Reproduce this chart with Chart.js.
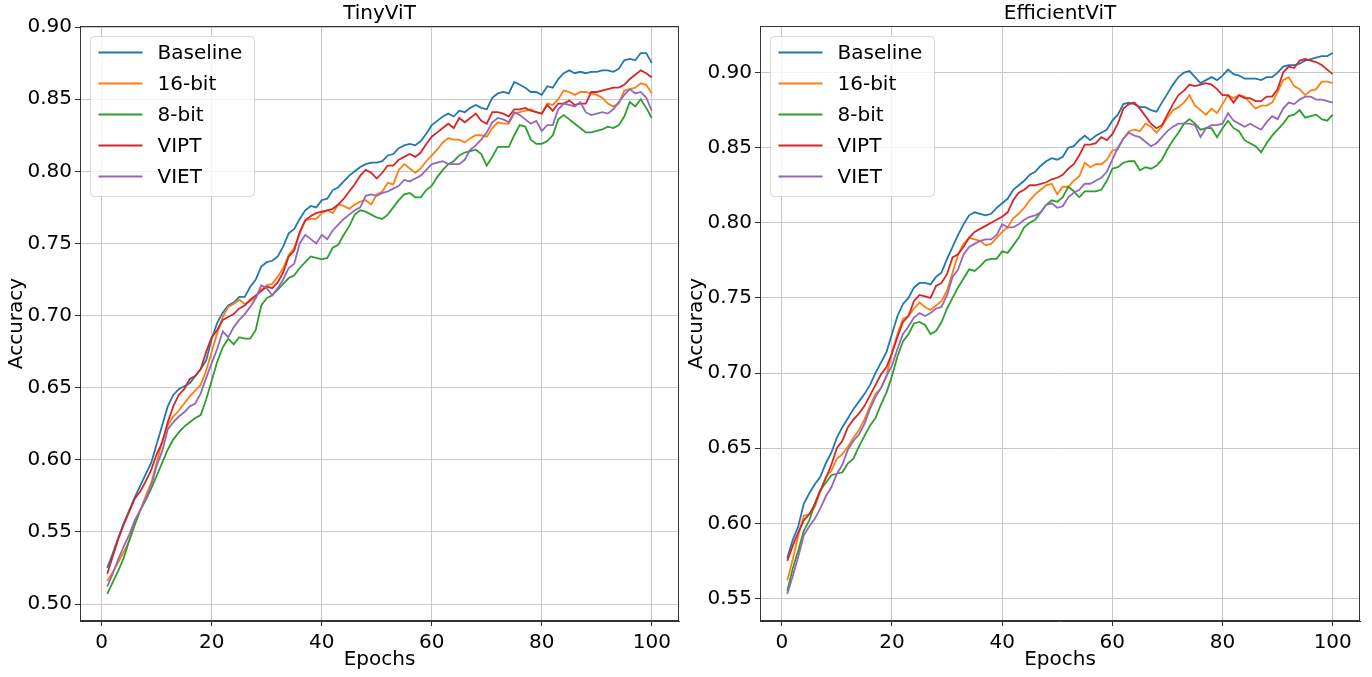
<!DOCTYPE html>
<html>
<head>
<meta charset="utf-8">
<title>TinyViT / EfficientViT accuracy</title>
<script src="https://cdn.jsdelivr.net/npm/chart.js@4/dist/chart.umd.min.js"></script>
<style>
  html, body { margin: 0; padding: 0; background: #fff; }
  #wrap { position: relative; width: 1372px; height: 677px; }
  .panel { position: absolute; top: 0; }
</style>
</head>
<body>
<div id="wrap">
  <canvas id="tinyChart" class="panel" width="680" height="677" style="left:0px"></canvas>
  <canvas id="effChart" class="panel" width="692" height="677" style="left:680px"></canvas>
</div>
<script>
// accuracy per epoch (1..100)
const seriesNames = ["Baseline", "16-bit", "8-bit", "VIPT", "VIET"];
const seriesColors = ["#1f77b4", "#ff7f0e", "#2ca02c", "#d62728", "#9467bd"];

const tinyBaseline = [0.525,0.535,0.546,0.556,0.565,0.574,0.582,0.590,0.598,0.611,0.624,0.637,0.645,0.649,0.651,0.653,0.658,0.663,0.669,0.684,0.695,0.702,0.707,0.709,0.713,
  0.713,0.720,0.725,0.734,0.737,0.738,0.741,0.748,0.757,0.760,0.767,0.773,0.776,0.775,0.780,0.781,0.787,0.789,0.793,0.797,0.800,0.803,0.805,0.806,0.806,
  0.807,0.811,0.812,0.816,0.818,0.819,0.818,0.821,0.826,0.832,0.835,0.838,0.840,0.838,0.842,0.841,0.844,0.846,0.844,0.843,0.851,0.854,0.855,0.854,0.862,
  0.860,0.858,0.855,0.855,0.853,0.859,0.858,0.864,0.868,0.870,0.868,0.869,0.868,0.869,0.869,0.870,0.870,0.869,0.871,0.877,0.878,0.877,0.882,0.882,0.875];
const tiny16bit = [0.516,0.522,0.529,0.536,0.544,0.555,0.565,0.575,0.584,0.598,0.613,0.624,0.630,0.634,0.639,0.644,0.648,0.652,0.662,0.675,0.688,0.699,0.706,0.708,0.711,
  0.708,0.710,0.713,0.718,0.721,0.722,0.727,0.733,0.742,0.747,0.757,0.766,0.767,0.767,0.771,0.773,0.771,0.777,0.776,0.774,0.777,0.779,0.780,0.777,0.784,
  0.786,0.792,0.791,0.801,0.805,0.802,0.799,0.802,0.807,0.811,0.815,0.820,0.823,0.822,0.822,0.820,0.823,0.825,0.825,0.824,0.830,0.834,0.833,0.833,0.840,
  0.841,0.842,0.843,0.841,0.840,0.847,0.846,0.850,0.856,0.855,0.853,0.855,0.855,0.854,0.853,0.851,0.847,0.845,0.847,0.856,0.857,0.858,0.861,0.860,0.854];
const tiny8bit = [0.507,0.515,0.523,0.532,0.544,0.555,0.565,0.572,0.580,0.589,0.598,0.607,0.614,0.619,0.623,0.626,0.629,0.631,0.642,0.655,0.668,0.678,0.684,0.680,0.685,
  0.684,0.684,0.690,0.707,0.712,0.714,0.718,0.722,0.726,0.728,0.733,0.737,0.741,0.740,0.739,0.740,0.747,0.749,0.756,0.762,0.770,0.773,0.772,0.770,0.768,
  0.767,0.770,0.775,0.780,0.784,0.785,0.782,0.782,0.787,0.790,0.796,0.801,0.805,0.807,0.811,0.813,0.814,0.815,0.812,0.804,0.810,0.817,0.817,0.817,0.825,
  0.832,0.831,0.822,0.819,0.819,0.821,0.825,0.836,0.839,0.836,0.833,0.830,0.827,0.827,0.828,0.829,0.831,0.830,0.832,0.838,0.848,0.845,0.850,0.844,0.837];
const tinyVipt = [0.521,0.533,0.545,0.555,0.564,0.573,0.578,0.585,0.593,0.604,0.612,0.626,0.637,0.645,0.649,0.656,0.658,0.663,0.675,0.685,0.690,0.697,0.699,0.701,0.705,
  0.707,0.711,0.714,0.717,0.720,0.719,0.723,0.730,0.741,0.745,0.758,0.766,0.769,0.771,0.772,0.773,0.774,0.777,0.781,0.786,0.791,0.797,0.801,0.799,0.795,
  0.799,0.804,0.804,0.808,0.810,0.812,0.810,0.813,0.819,0.824,0.827,0.830,0.833,0.830,0.837,0.834,0.837,0.840,0.835,0.833,0.841,0.841,0.840,0.838,0.843,
  0.843,0.844,0.842,0.841,0.840,0.846,0.842,0.847,0.847,0.849,0.846,0.847,0.847,0.855,0.855,0.856,0.857,0.858,0.858,0.860,0.864,0.867,0.870,0.868,0.865];
const tinyViet = [0.512,0.521,0.531,0.540,0.548,0.558,0.565,0.573,0.582,0.596,0.606,0.621,0.626,0.630,0.633,0.637,0.639,0.646,0.657,0.667,0.677,0.689,0.685,0.692,0.697,
  0.701,0.706,0.712,0.721,0.719,0.714,0.719,0.725,0.733,0.736,0.750,0.756,0.753,0.750,0.756,0.753,0.759,0.763,0.767,0.770,0.773,0.775,0.783,0.784,0.783,
  0.785,0.786,0.788,0.790,0.794,0.793,0.795,0.797,0.801,0.805,0.806,0.807,0.805,0.805,0.805,0.808,0.815,0.818,0.822,0.827,0.834,0.837,0.836,0.834,0.841,
  0.839,0.836,0.833,0.835,0.828,0.832,0.832,0.843,0.847,0.846,0.845,0.848,0.841,0.839,0.840,0.841,0.840,0.843,0.848,0.853,0.857,0.854,0.855,0.851,0.842];

const effBaseline = [0.577,0.589,0.598,0.613,0.620,0.626,0.631,0.640,0.647,0.657,0.664,0.670,0.676,0.681,0.686,0.692,0.700,0.707,0.714,0.726,0.738,0.746,0.750,0.757,0.760,
  0.760,0.759,0.764,0.767,0.776,0.784,0.792,0.799,0.805,0.807,0.806,0.805,0.806,0.810,0.813,0.816,0.822,0.825,0.828,0.832,0.834,0.838,0.841,0.843,0.842,
  0.844,0.850,0.851,0.855,0.858,0.855,0.858,0.860,0.862,0.868,0.872,0.879,0.880,0.879,0.877,0.877,0.875,0.874,0.880,0.886,0.892,0.897,0.900,0.901,0.897,
  0.893,0.895,0.897,0.895,0.898,0.902,0.899,0.898,0.896,0.896,0.896,0.895,0.897,0.897,0.900,0.904,0.905,0.905,0.906,0.908,0.909,0.910,0.911,0.911,0.913];
const eff16bit = [0.562,0.576,0.592,0.605,0.606,0.611,0.621,0.631,0.635,0.643,0.646,0.651,0.657,0.662,0.669,0.678,0.686,0.690,0.698,0.714,0.726,0.736,0.738,0.743,0.747,
  0.744,0.742,0.745,0.748,0.755,0.767,0.779,0.786,0.790,0.789,0.788,0.785,0.786,0.790,0.794,0.797,0.803,0.806,0.810,0.815,0.819,0.822,0.825,0.826,0.819,
  0.824,0.824,0.828,0.831,0.840,0.837,0.839,0.839,0.842,0.848,0.849,0.856,0.861,0.862,0.861,0.866,0.864,0.860,0.864,0.870,0.875,0.877,0.880,0.885,0.878,
  0.875,0.872,0.876,0.873,0.879,0.885,0.883,0.885,0.884,0.880,0.876,0.878,0.878,0.880,0.887,0.895,0.897,0.891,0.889,0.885,0.888,0.889,0.894,0.894,0.893];
const eff8bit = [0.555,0.570,0.582,0.595,0.602,0.613,0.622,0.627,0.632,0.633,0.634,0.640,0.643,0.651,0.658,0.665,0.670,0.679,0.687,0.698,0.711,0.721,0.726,0.733,0.734,
  0.732,0.726,0.728,0.734,0.743,0.750,0.757,0.763,0.769,0.768,0.771,0.775,0.776,0.776,0.781,0.780,0.785,0.790,0.797,0.800,0.802,0.807,0.812,0.815,0.814,
  0.817,0.824,0.821,0.817,0.821,0.821,0.821,0.822,0.828,0.836,0.837,0.840,0.841,0.841,0.835,0.837,0.836,0.838,0.842,0.849,0.855,0.860,0.866,0.869,0.866,
  0.862,0.863,0.863,0.857,0.863,0.868,0.863,0.861,0.855,0.853,0.851,0.847,0.853,0.858,0.862,0.866,0.871,0.872,0.875,0.870,0.871,0.872,0.869,0.868,0.872];
const effVipt = [0.575,0.585,0.594,0.602,0.606,0.613,0.622,0.630,0.639,0.650,0.655,0.664,0.669,0.673,0.678,0.685,0.692,0.699,0.704,0.713,0.724,0.734,0.738,0.748,0.752,
  0.751,0.750,0.758,0.760,0.766,0.777,0.779,0.784,0.790,0.794,0.796,0.798,0.800,0.802,0.804,0.807,0.815,0.820,0.822,0.825,0.825,0.826,0.827,0.829,0.830,
  0.832,0.836,0.839,0.845,0.852,0.852,0.853,0.857,0.855,0.859,0.866,0.876,0.879,0.880,0.876,0.871,0.866,0.863,0.865,0.872,0.879,0.885,0.888,0.892,0.891,
  0.892,0.893,0.892,0.889,0.885,0.885,0.880,0.885,0.883,0.883,0.881,0.881,0.884,0.884,0.889,0.900,0.904,0.903,0.908,0.909,0.908,0.907,0.905,0.902,0.899];
const effViet = [0.553,0.565,0.578,0.592,0.598,0.603,0.610,0.618,0.624,0.633,0.639,0.649,0.655,0.659,0.666,0.676,0.684,0.690,0.698,0.705,0.716,0.726,0.731,0.737,0.740,
  0.738,0.740,0.743,0.744,0.752,0.764,0.769,0.779,0.784,0.786,0.788,0.789,0.789,0.792,0.799,0.797,0.797,0.799,0.802,0.804,0.805,0.807,0.812,0.813,0.810,
  0.811,0.817,0.820,0.822,0.826,0.826,0.828,0.830,0.834,0.842,0.850,0.856,0.860,0.858,0.857,0.854,0.851,0.853,0.857,0.861,0.864,0.866,0.866,0.866,0.865,
  0.857,0.863,0.865,0.865,0.866,0.873,0.868,0.866,0.864,0.866,0.864,0.862,0.867,0.871,0.869,0.876,0.880,0.879,0.882,0.884,0.884,0.882,0.882,0.881,0.880];

const epochs = tinyBaseline.map((_, i) => i + 1);
const xTicks = [0, 20, 40, 60, 80, 100];
const tinyYTicks = [0.50, 0.55, 0.60, 0.65, 0.70, 0.75, 0.80, 0.85, 0.90];
const effYTicks = [0.55, 0.60, 0.65, 0.70, 0.75, 0.80, 0.85, 0.90];

const FONT = "'DejaVu Sans', 'Liberation Sans', sans-serif";
Chart.defaults.color = "#000";
Chart.defaults.font.family = FONT;

// axes frame on all four sides, over the lines
const axesFrame = {
  id: "axesFrame",
  afterDatasetsDraw(chart) {
    const { ctx, chartArea: a } = chart;
    ctx.save();
    ctx.strokeStyle = "#333";
    ctx.lineWidth = 1;
    ctx.strokeRect(Math.round(a.left) + 0.5, Math.round(a.top) + 0.5,
      Math.round(a.right - a.left) - 1, Math.round(a.bottom - a.top) - 1);
    ctx.restore();
  }
};

// legend box in the upper-left corner of the plot
const cornerLegend = {
  id: "cornerLegend",
  afterDraw(chart) {
    const { ctx, chartArea: a } = chart;
    const x = Math.round(a.left) + 10.5, y = Math.round(a.top) + 10.5;
    const w = 164, h = 160;
    ctx.save();
    ctx.beginPath();
    ctx.roundRect(x, y, w, h, 4);
    ctx.fillStyle = "rgba(255,255,255,0.8)";
    ctx.fill();
    ctx.strokeStyle = "#d6d6d6";
    ctx.lineWidth = 1;
    ctx.stroke();
    ctx.font = "20px " + FONT;
    ctx.textBaseline = "middle";
    chart.data.datasets.forEach((ds, i) => {
      const rowY = y + 16 + i * 31;
      ctx.strokeStyle = ds.borderColor;
      ctx.lineWidth = 2;
      ctx.beginPath();
      ctx.moveTo(x + 8, rowY);
      ctx.lineTo(x + 52, rowY);
      ctx.stroke();
      ctx.fillStyle = "#000";
      ctx.fillText(ds.label, x + 67, rowY + 1);
    });
    ctx.restore();
  }
};

function makePanel(canvasId, title, series, yTicks, rightPad) {
  const all = series.flat();
  const lo = Math.min(...all), hi = Math.max(...all);
  const yPad = (hi - lo) * 0.05;
  const xPad = (epochs[epochs.length - 1] - epochs[0]) * 0.05;

  const datasets = series.map((vals, i) => ({
    label: seriesNames[i],
    data: vals.map((v, j) => ({ x: epochs[j], y: v })),
    borderColor: seriesColors[i],
    backgroundColor: seriesColors[i],
    borderWidth: 1.8,
    pointRadius: 0,
    tension: 0,
    fill: false,
    order: series.length - i
  }));

  return new Chart(document.getElementById(canvasId), {
    type: "line",
    data: { datasets: datasets },
    options: {
      responsive: false,
      animation: false,
      devicePixelRatio: 1,
      layout: { padding: { left: 0, right: rightPad, top: 0, bottom: 0 } },
      plugins: {
        legend: { display: false },
        tooltip: { enabled: false },
        title: {
          display: true,
          text: title,
          fullSize: false,
          font: { size: 20, weight: "normal" },
          padding: { top: 2, bottom: 0 }
        }
      },
      scales: {
        x: {
          type: "linear",
          min: epochs[0] - xPad,
          max: epochs[epochs.length - 1] + xPad,
          afterBuildTicks: s => { s.ticks = xTicks.map(v => ({ value: v })); },
          afterFit: s => { s.height = 56; },
          ticks: { font: { size: 20 }, padding: 5, maxRotation: 0 },
          grid: { color: "#c8c8c8", lineWidth: 1, tickColor: "#333", tickLength: 5 },
          border: { color: "#333" },
          title: { display: true, text: "Epochs", font: { size: 20 }, padding: { top: 0, bottom: 5 } }
        },
        y: {
          type: "linear",
          min: lo - yPad,
          max: hi + yPad,
          afterBuildTicks: s => { s.ticks = yTicks.map(v => ({ value: v })); },
          afterFit: s => { s.width = 80; },
          ticks: { font: { size: 20 }, padding: 3, callback: v => v.toFixed(2) },
          grid: { color: "#c8c8c8", lineWidth: 1, tickColor: "#333", tickLength: 5 },
          border: { color: "#333" },
          title: { display: true, text: "Accuracy", font: { size: 20 }, padding: { top: 5, bottom: 0 } }
        }
      }
    },
    plugins: [axesFrame, cornerLegend]
  });
}

makePanel("tinyChart", "TinyViT", [tinyBaseline, tiny16bit, tiny8bit, tinyVipt, tinyViet], tinyYTicks, 1);
makePanel("effChart", "EfficientViT", [effBaseline, eff16bit, eff8bit, effVipt, effViet], effYTicks, 12);
</script>
</body>
</html>
